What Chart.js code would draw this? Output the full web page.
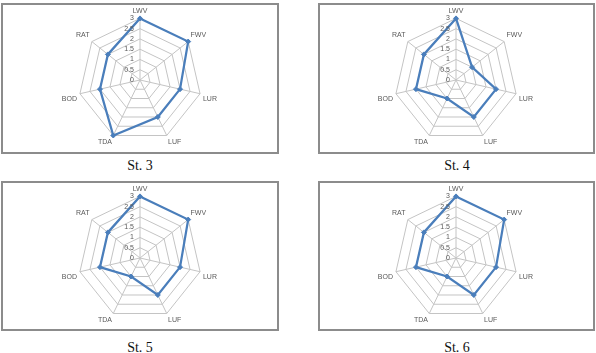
<!DOCTYPE html>
<html>
<head>
<meta charset="utf-8">
<script src="https://cdn.jsdelivr.net/npm/chart.js@4.4.0/dist/chart.umd.min.js"></script>
<style>
    body { margin: 0; width: 596px; height: 353px; background: #fff; position: relative; overflow: hidden; }
    .box { position: absolute; box-sizing: border-box; border: 2px solid #8c8c8c; background: #fff; }
    .box canvas { position: absolute; left: 0; }
    .cap { position: absolute; width: 200px; text-align: center; font-family: "Liberation Serif", serif; font-size: 14px; color: #111; }
</style>
</head>
<body>
<div class="box" id="b3" style="left:1px;top:3px;width:278px;height:151px;"><canvas id="c3"></canvas></div>
<div class="box" id="b4" style="left:318px;top:3px;width:277px;height:151px;"><canvas id="c4"></canvas></div>
<div class="box" id="b5" style="left:1px;top:181px;width:278px;height:150px;"><canvas id="c5"></canvas></div>
<div class="box" id="b6" style="left:318px;top:181px;width:277px;height:150px;"><canvas id="c6"></canvas></div>
<div class="cap" style="left:40px;top:158px;">St. 3</div>
<div class="cap" style="left:357px;top:158px;">St. 4</div>
<div class="cap" style="left:40px;top:340px;">St. 5</div>
<div class="cap" style="left:357px;top:340px;">St. 6</div>
<script>
// 数据
const categories = ["LWV", "FWV", "LUR", "LUF", "TDA", "BOD", "RAT"];
const st3 = [3, 3, 2, 2, 3, 2, 2];
const st4 = [3, 1, 2, 2, 1, 2, 2];
const st5 = [3, 3, 2, 2, 1, 2, 2];
const st6 = [3, 3, 2, 2, 1, 2, 2];
const tickValues = [0, 0.5, 1, 1.5, 2, 2.5, 3];

// 刻度文字画在轴的左边
const tickPlugin = {
    id: "leftTicks",
    afterDraw(chart) {
        const s = chart.scales.r;
        const ctx = chart.ctx;
        ctx.save();
        ctx.font = "7px 'Liberation Sans', Arial, sans-serif";
        ctx.fillStyle = "#595959";
        ctx.textAlign = "right";
        ctx.textBaseline = "middle";
        tickValues.forEach((v) => {
            const y = s.yCenter - s.getDistanceFromCenterForValue(v);
            ctx.fillText(String(v), s.xCenter - 6, y);
        });
        ctx.restore();
    }
};

function makeRadar(id, boxId, values) {
    const box = document.getElementById(boxId);
    const canvas = document.getElementById(id);
    const w = box.clientWidth;
    const h = 146;
    canvas.width = w;
    canvas.height = h;
    canvas.style.width = w + "px";
    canvas.style.height = h + "px";
    canvas.style.top = "-1px";

    new Chart(canvas.getContext("2d"), {
        type: "radar",
        data: {
            labels: categories,
            datasets: [{
                data: values,
                borderColor: "#4a7ebb",
                borderWidth: 2.25,
                backgroundColor: "rgba(0,0,0,0)",
                fill: false,
                pointStyle: "rectRot",
                pointRadius: 2.5,
                pointBackgroundColor: "#4a7ebb",
                pointBorderColor: "#4a7ebb",
                pointBorderWidth: 1,
                tension: 0,
            }],
        },
        options: {
            responsive: false,
            animation: false,
            plugins: {
                legend: { display: false },
                tooltip: { enabled: false },
            },
            scales: {
                r: {
                    min: 0,
                    max: 3,
                    ticks: { stepSize: 0.5, display: false },
                    grid: { color: "#c4c4c4", lineWidth: 1 },
                    angleLines: { color: "#c4c4c4", lineWidth: 1 },
                    pointLabels: {
                        padding: 3,
                        color: "#595959",
                        font: { size: 7, family: "'Liberation Sans', Arial, sans-serif" },
                    },
                },
            },
        },
        plugins: [tickPlugin],
    });
}

makeRadar("c3", "b3", st3);
makeRadar("c4", "b4", st4);
makeRadar("c5", "b5", st5);
makeRadar("c6", "b6", st6);
</script>
</body>
</html>
